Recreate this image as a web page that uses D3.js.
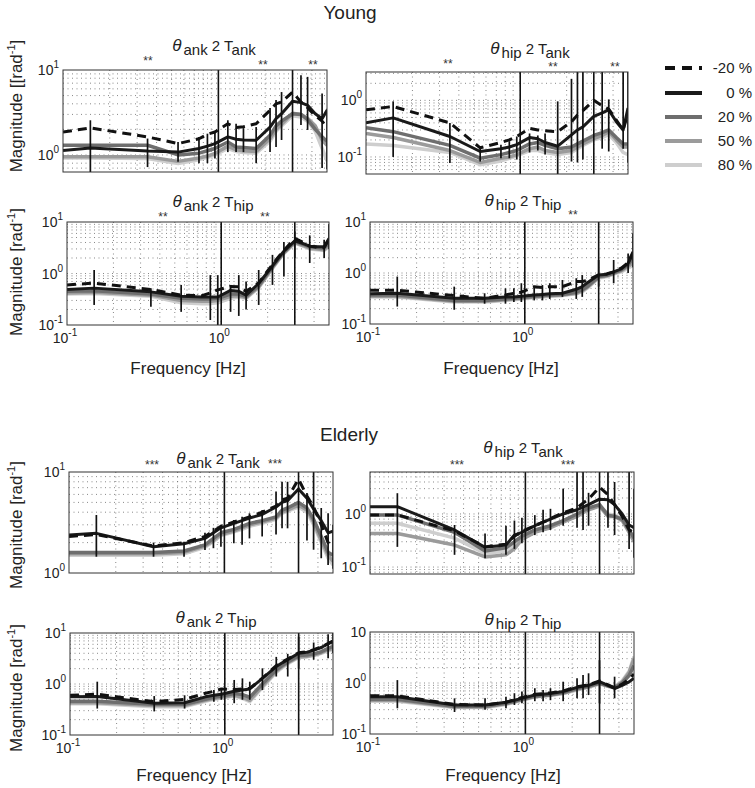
<!DOCTYPE html>
<html><head><meta charset="utf-8">
<script src="https://cdn.jsdelivr.net/npm/d3@7"></script>
<style>
body{margin:0;background:#fff;}
svg{font-family:"Liberation Sans", Arial, Helvetica, sans-serif;}
</style></head><body>
<svg id="chart" width="755" height="788"></svg>
<script>
// ---------------- DATA ----------------
const freqs = [0.1, 0.15, 0.35, 0.55, 0.75, 0.85, 0.95, 1.15, 1.3, 1.45, 1.75, 2.15, 2.35, 2.55, 3.0, 3.4, 3.75, 4.2, 4.65, 5.0];
const seriesNames = ["-20 %", "0 %", "20 %", "50 %", "80 %"];
const markerFreqs = [1, 3];
const groupTitles = ["Young", "Elderly"];

// Young θank 2 Tank
const YAT_m20 = [1.86, 2.08, 1.63, 1.36, 1.55, 1.75, 1.86, 2.33, 2.10, 2.15, 2.33, 3.35, 4.0, 4.2, 5.5, 4.2, 3.6, 2.9, 2.5, 2.1];
const YAT_0   = [1.13, 1.21, 1.11, 1.08, 1.19, 1.27, 1.36, 1.63, 1.53, 1.50, 1.49, 2.13, 2.67, 3.06, 4.28, 4.13, 3.84, 3.06, 2.67, 3.35];
const YAT_20  = [1.30, 1.30, 1.30, 1.00, 1.05, 1.12, 1.19, 1.42, 1.24, 1.22, 1.19, 1.70, 2.2, 2.5, 3.06, 3.0, 2.6, 2.0, 1.63, 1.45];
const YAT_50  = [0.95, 0.95, 0.95, 0.84, 0.92, 0.97, 1.04, 1.27, 1.15, 1.12, 1.10, 1.55, 2.0, 2.3, 3.1, 3.0, 2.7, 2.2, 1.5, 1.3];
const YAT_80  = [0.92, 0.92, 0.91, 0.79, 0.88, 0.94, 1.00, 1.19, 1.10, 1.07, 1.05, 1.45, 1.9, 2.2, 2.9, 2.8, 2.5, 1.9, 1.2, 0.85];
const YAT_err = [[1,0.5,2.56],[2,0.72,1.56],[3,0.83,1.42],[4,0.80,1.63],[5,0.80,1.78],[6,0.91,1.86],[7,1.08,2.56],[8,1.08,2.33],[9,1.08,2.07],[10,0.80,2.13],[11,1.08,3.57],[12,1.24,4.44],[13,1.5,5.5],[15,2.25,8.7],[16,1.97,8.3],[18,0.70,5.3],[19,0.68,3.5]];

// Young θhip 2 Tank
const YHT_m20 = [0.68, 0.78, 0.40, 0.145, 0.18, 0.20, 0.23, 0.32, 0.30, 0.29, 0.28, 0.42, 0.55, 0.66, 1.0, 0.8, 0.7, 0.45, 0.30, 0.6];
const YHT_0   = [0.40, 0.49, 0.23, 0.125, 0.14, 0.15, 0.165, 0.22, 0.21, 0.18, 0.155, 0.245, 0.30, 0.34, 0.52, 0.60, 0.68, 0.42, 0.30, 0.73];
const YHT_20  = [0.33, 0.28, 0.16, 0.095, 0.11, 0.12, 0.13, 0.17, 0.18, 0.16, 0.14, 0.15, 0.17, 0.19, 0.24, 0.27, 0.30, 0.22, 0.17, 0.17];
const YHT_50  = [0.26, 0.22, 0.13, 0.08, 0.095, 0.10, 0.11, 0.14, 0.15, 0.13, 0.12, 0.13, 0.15, 0.17, 0.21, 0.24, 0.28, 0.20, 0.15, 0.15];
const YHT_80  = [0.17, 0.16, 0.12, 0.073, 0.085, 0.095, 0.105, 0.13, 0.13, 0.12, 0.11, 0.12, 0.14, 0.16, 0.20, 0.22, 0.25, 0.18, 0.12, 0.11];
const YHT_err = [[1,0.10,0.96],[2,0.078,0.40],[3,0.083,0.153],[4,0.095,0.164],[5,0.095,0.19],[6,0.09,0.23],[7,0.12,0.26],[8,0.13,0.24],[9,0.11,0.26],[10,0.04,0.96],[11,0.083,2.4],[12,0.08,5],[13,0.09,5],[15,0.14,5],[16,0.125,1.04],[18,0.14,5],[19,0.08,5]];

// Young θank 2 Thip
const YAH_m20 = [0.60, 0.65, 0.49, 0.38, 0.37, 0.42, 0.48, 0.56, 0.55, 0.45, 0.66, 1.5, 2.1, 2.8, 4.8, 4.0, 3.4, 3.2, 3.2, 4.6];
const YAH_0   = [0.49, 0.52, 0.44, 0.36, 0.35, 0.35, 0.35, 0.47, 0.45, 0.38, 0.64, 1.4, 2.0, 2.7, 4.3, 3.8, 3.4, 3.3, 3.3, 4.8];
const YAH_20  = [0.45, 0.46, 0.40, 0.33, 0.32, 0.32, 0.33, 0.40, 0.40, 0.36, 0.58, 1.35, 1.9, 2.6, 4.2, 3.7, 3.3, 3.2, 3.1, 4.0];
const YAH_50  = [0.42, 0.43, 0.38, 0.30, 0.29, 0.29, 0.30, 0.36, 0.37, 0.34, 0.55, 1.3, 1.85, 2.5, 4.0, 3.5, 3.1, 3.0, 2.9, 3.6];
const YAH_80  = [0.40, 0.41, 0.36, 0.27, 0.26, 0.26, 0.27, 0.33, 0.35, 0.33, 0.53, 1.25, 1.8, 2.45, 3.9, 3.4, 3.0, 2.9, 2.8, 3.3];
const YAH_err = [[1,0.245,1.17],[2,0.227,0.52],[3,0.18,0.60],[5,0.125,0.93],[6,0.10,0.93],[7,0.18,0.60],[8,0.15,0.93],[9,0.2,0.7],[10,0.245,1.17],[11,0.6,2.3],[13,0.87,4.1],[14,2.0,6.5],[16,1.6,5.5],[18,2.0,4.5],[19,3,9]];

// Young θhip 2 Thip
const YHH_m20 = [0.46, 0.46, 0.36, 0.32, 0.37, 0.40, 0.42, 0.54, 0.52, 0.54, 0.54, 0.68, 0.68, 0.72, 0.92, 0.97, 1.05, 1.25, 1.6, 2.6];
const YHH_0   = [0.39, 0.40, 0.32, 0.32, 0.34, 0.34, 0.35, 0.37, 0.38, 0.39, 0.40, 0.48, 0.54, 0.65, 0.91, 0.95, 1.05, 1.2, 1.55, 2.4];
const YHH_20  = [0.37, 0.37, 0.29, 0.29, 0.31, 0.32, 0.33, 0.35, 0.36, 0.37, 0.38, 0.42, 0.47, 0.55, 0.85, 0.9, 1.0, 1.15, 1.45, 2.0];
const YHH_50  = [0.35, 0.35, 0.28, 0.28, 0.30, 0.31, 0.32, 0.34, 0.35, 0.36, 0.37, 0.40, 0.45, 0.53, 0.82, 0.88, 0.98, 1.1, 1.35, 1.6];
const YHH_80  = [0.34, 0.34, 0.27, 0.27, 0.29, 0.30, 0.31, 0.33, 0.34, 0.35, 0.36, 0.39, 0.43, 0.51, 0.80, 0.85, 0.95, 1.05, 1.25, 1.4];
const YHH_err = [[1,0.22,0.85],[2,0.19,0.54],[3,0.25,0.40],[4,0.25,0.5],[5,0.27,0.5],[6,0.27,0.63],[7,0.29,0.54],[8,0.29,0.58],[9,0.31,0.63],[10,0.34,0.73],[11,0.31,0.79],[12,0.34,0.91],[14,0.54,1.8],[16,0.63,1.8],[18,1.0,2.4],[19,1.3,6]];

// Elderly θank 2 Tank
const EAT_m20 = [2.3, 2.4, 1.85, 2.0, 2.3, 2.6, 2.9, 3.2, 3.4, 3.6, 4.0, 4.6, 5.3, 5.5, 8.5, 5.8, 4.5, 3.0, 2.0, 1.8];
const EAT_0   = [2.38, 2.47, 1.82, 1.95, 2.2, 2.5, 2.8, 3.1, 3.3, 3.5, 3.8, 4.5, 5.0, 5.2, 6.8, 5.5, 4.3, 3.3, 2.5, 2.6];
const EAT_20  = [1.6, 1.6, 1.6, 1.65, 1.9, 2.2, 2.5, 2.7, 2.9, 3.1, 3.3, 3.6, 4.2, 4.4, 5.0, 4.4, 3.4, 2.3, 1.6, 1.5];
const EAT_50  = [1.55, 1.55, 1.55, 1.6, 1.85, 2.1, 2.4, 2.6, 2.8, 3.0, 3.2, 3.5, 4.0, 4.2, 4.7, 4.2, 3.2, 2.1, 1.5, 1.3];
const EAT_80  = [1.5, 1.5, 1.5, 1.55, 1.8, 2.05, 2.35, 2.55, 2.7, 2.9, 3.1, 3.4, 3.9, 4.1, 4.5, 4.0, 3.0, 2.0, 1.4, 1.2];
const EAT_err = [[1,1.45,3.75],[2,1.45,2.0],[3,1.45,2.04],[4,1.69,2.5],[5,1.76,2.8],[6,1.82,3.0],[7,1.97,3.35],[8,1.9,3.6],[9,2.2,3.9],[10,2.3,4.2],[11,2.4,6.4],[12,2.77,8.0],[13,2.77,8.0],[15,2.1,6.2],[16,1.7,10],[17,1.4,4.4],[18,1.2,3.9],[19,1.1,3.0]];

// Elderly θhip 2 Tank
const EHT_m20 = [0.96, 0.96, 0.48, 0.24, 0.27, 0.38, 0.47, 0.6, 0.7, 0.82, 1.05, 1.3, 1.6, 1.9, 3.2, 2.3, 1.5, 0.9, 0.5, 0.45];
const EHT_0   = [1.37, 1.37, 0.50, 0.235, 0.26, 0.40, 0.45, 0.6, 0.7, 0.8, 1.0, 1.2, 1.35, 1.5, 1.9, 1.85, 1.5, 1.0, 0.62, 0.55];
const EHT_20  = [0.96, 0.96, 0.45, 0.2, 0.23, 0.3, 0.38, 0.5, 0.55, 0.6, 0.75, 1.0, 1.15, 1.3, 1.5, 0.95, 0.9, 0.8, 0.5, 0.35];
const EHT_50  = [0.43, 0.43, 0.26, 0.155, 0.17, 0.22, 0.33, 0.45, 0.5, 0.55, 0.7, 0.9, 1.05, 1.2, 1.4, 0.9, 0.9, 0.75, 0.45, 0.3];
const EHT_80  = [0.67, 0.67, 0.35, 0.18, 0.2, 0.26, 0.36, 0.47, 0.52, 0.58, 0.72, 0.95, 1.1, 1.25, 1.45, 1.0, 0.95, 0.8, 0.5, 0.32];
const EHT_err = [[1,0.24,2.46],[2,0.17,0.62],[3,0.146,0.43],[4,0.17,0.6],[5,0.22,0.75],[6,0.28,0.85],[7,0.4,0.95],[8,0.45,1.2],[9,0.5,1.25],[10,0.6,3.0],[11,0.55,7],[12,0.5,7],[13,0.6,2.5],[15,0.55,7],[16,0.4,4],[18,0.22,7],[19,0.15,3]];

// Elderly θank 2 Thip
const EAH_m20 = [0.6, 0.63, 0.45, 0.5, 0.66, 0.72, 0.8, 0.78, 0.8, 0.82, 1.3, 2.3, 2.7, 3.1, 4.1, 4.3, 4.7, 5.3, 6.2, 7.0];
const EAH_0   = [0.56, 0.57, 0.42, 0.43, 0.56, 0.6, 0.63, 0.72, 0.76, 0.8, 1.29, 2.2, 2.6, 3.0, 4.0, 4.2, 4.6, 5.2, 6.2, 6.8];
const EAH_20  = [0.46, 0.46, 0.4, 0.4, 0.5, 0.55, 0.58, 0.65, 0.62, 0.55, 1.0, 1.9, 2.3, 2.7, 3.6, 3.7, 3.9, 4.3, 5.0, 5.5];
const EAH_50  = [0.43, 0.43, 0.38, 0.38, 0.48, 0.52, 0.55, 0.6, 0.55, 0.48, 0.9, 1.8, 2.2, 2.6, 3.4, 3.5, 3.7, 4.1, 4.7, 5.0];
const EAH_80  = [0.41, 0.41, 0.36, 0.36, 0.46, 0.5, 0.53, 0.58, 0.52, 0.45, 0.85, 1.7, 2.1, 2.5, 3.3, 3.4, 3.6, 4.0, 4.5, 4.7];
const EAH_err = [[1,0.33,1.11],[2,0.29,0.58],[3,0.33,0.6],[5,0.45,0.76],[6,0.49,0.82],[7,0.42,1.2],[8,0.49,1.29],[9,0.49,1.11],[10,0.76,2.03],[11,1.4,3.4],[13,1.4,3.9],[14,2.0,8.5],[16,3.0,6.5],[18,3.2,9.4],[19,4,10]];

// Elderly θhip 2 Thip
const EHH_m20 = [0.56, 0.56, 0.38, 0.37, 0.42, 0.47, 0.52, 0.6, 0.62, 0.64, 0.7, 0.84, 0.88, 0.92, 1.1, 0.92, 0.8, 0.95, 1.2, 1.5];
const EHH_0   = [0.54, 0.54, 0.37, 0.37, 0.42, 0.46, 0.5, 0.58, 0.6, 0.62, 0.68, 0.82, 0.86, 0.9, 1.06, 0.9, 0.78, 0.9, 1.05, 1.24];
const EHH_20  = [0.48, 0.48, 0.35, 0.35, 0.4, 0.44, 0.48, 0.55, 0.57, 0.59, 0.65, 0.78, 0.82, 0.86, 1.0, 0.88, 0.8, 1.0, 1.4, 2.2];
const EHH_50  = [0.46, 0.46, 0.34, 0.34, 0.39, 0.43, 0.47, 0.54, 0.56, 0.58, 0.63, 0.75, 0.8, 0.84, 0.98, 0.87, 0.82, 1.05, 1.6, 3.0];
const EHH_80  = [0.44, 0.44, 0.33, 0.33, 0.38, 0.42, 0.46, 0.53, 0.55, 0.57, 0.62, 0.73, 0.78, 0.82, 0.95, 0.86, 0.84, 1.1, 1.7, 3.3];
const EHH_err = [[1,0.32,1.14],[2,0.27,0.5],[3,0.3,0.5],[4,0.32,0.54],[5,0.37,0.63],[6,0.4,0.68],[7,0.44,0.79],[8,0.44,0.73],[9,0.46,0.79],[10,0.44,1.06],[11,0.5,1.24],[12,0.5,1.43],[13,0.58,1.55],[14,0.4,2.8],[16,0.5,1.33]];

// ---------------- LAYOUT ----------------
const seriesStyle = [
  {color:"#111111", width:3, dash:"9,6"},
  {color:"#1a1a1a", width:3, dash:null},
  {color:"#6e6e6e", width:3.5, dash:null},
  {color:"#9b9b9b", width:3.5, dash:null},
  {color:"#cecece", width:3.5, dash:null}
];

const panels = [
  {key:"p1", series:[YAT_m20,YAT_0,YAT_20,YAT_50,YAT_80], err:YAT_err, box:[63,327,70,172], yDomain:[0.63,10],
   yTicks:[[10,"1"],[1,"0"]], xTicks:false, t:["ank","ank"], tPos:[214,51],
   stars:[[148,59,"**"],[263,63,"**"],[313,63,"**"]], ylab:{text:"Magnitude  [[rad", cy:106}},
  {key:"p2", series:[YHT_m20,YHT_0,YHT_20,YHT_50,YHT_80], err:YHT_err, box:[366,628,72,174], yDomain:[0.05,3.17],
   yTicks:[[1,"0"],[0.1,"-1"]], xTicks:false, t:["hip","ank"], tPos:[530,54],
   stars:[[448,62,"**"],[553,65,"**"],[615,65,"**"]]},
  {key:"p3", series:[YAH_m20,YAH_0,YAH_20,YAH_50,YAH_80], err:YAH_err, box:[67,329,222,325], yDomain:[0.1,10],
   yTicks:[[10,"1"],[1,"0"],[0.1,"-1"]], xTicks:true, t:["ank","hip"], tPos:[213,207],
   stars:[[163,215,"**"],[265,215,"**"]], ylab:{text:"Magnitude  [rad", cy:272}, xlab:{cx:188, y:374}},
  {key:"p4", series:[YHH_m20,YHH_0,YHH_20,YHH_50,YHH_80], err:YHH_err, box:[370,633,222,324], yDomain:[0.1,10],
   yTicks:[[10,"1"],[1,"0"],[0.1,"-1"]], xTicks:true, t:["hip","hip"], tPos:[523,206],
   stars:[[573,213,"**"]], xlab:{cx:501, y:374}},
  {key:"p5", series:[EAT_m20,EAT_0,EAT_20,EAT_50,EAT_80], err:EAT_err, box:[69,333,472,573], yDomain:[1,10],
   yTicks:[[10,"1"],[1,"0"]], xTicks:false, t:["ank","ank"], tPos:[218,464],
   stars:[[152,463,"***"],[275,462,"***"]], ylab:{text:"Magnitude  [rad", cy:525}},
  {key:"p6", series:[EHT_m20,EHT_0,EHT_20,EHT_50,EHT_80], err:EHT_err, box:[370,634,472,574], yDomain:[0.074,6.17],
   yTicks:[[1,"0"],[0.1,"-1"]], xTicks:false, t:["hip","ank"], tPos:[523,453],
   stars:[[457,463,"***"],[568,463,"***"]]},
  {key:"p7", series:[EAH_m20,EAH_0,EAH_20,EAH_50,EAH_80], err:EAH_err, box:[70,333,633,735], yDomain:[0.1,10],
   yTicks:[[10,"1"],[1,"0"],[0.1,"-1"]], xTicks:true, t:["ank","hip"], tPos:[216,623],
   stars:[], ylab:{text:"Magnitude  [rad", cy:688}, xlab:{cx:194, y:781}},
  {key:"p8", series:[EHH_m20,EHH_0,EHH_20,EHH_50,EHH_80], err:EHH_err, box:[370,634,632,734], yDomain:[0.1,10],
   yTicks:[[10,""],[1,"0"],[0.1,"-1"]], xTicks:true, t:["hip","hip"], tPos:[523,625],
   stars:[], xlab:{cx:503, y:781}}
];

const svg = d3.select("#chart");
const defs = svg.append("defs");
const ink = "#222";

function minorGrid(dom) {
  const out = [];
  const lo = Math.floor(Math.log10(dom[0])), hi = Math.ceil(Math.log10(dom[1]));
  for (let d = lo; d <= hi; d++) for (let k = 1; k <= 9; k++) {
    const v = k * Math.pow(10, d);
    if (v > dom[0] * 1.001 && v < dom[1] * 0.999) out.push(v);
  }
  return out;
}

function drawPanel(cfg) {
  const [x0, x1, y0, y1] = cfg.box;
  const x = d3.scaleLog().domain([0.1, 5]).range([x0, x1]);
  const y = d3.scaleLog().domain(cfg.yDomain).range([y1, y0]);
  const g = svg.append("g");
  defs.append("clipPath").attr("id", "clip-" + cfg.key)
    .append("rect").attr("x", x0).attr("y", y0).attr("width", x1 - x0).attr("height", y1 - y0);

  // dotted grid
  const grid = g.append("g").attr("stroke", "#6a6a6a").attr("stroke-width", 0.8).attr("stroke-dasharray", "1,3.5");
  grid.selectAll(".gx").data(minorGrid([0.1, 5])).join("line")
    .attr("x1", d => x(d)).attr("x2", d => x(d)).attr("y1", y0).attr("y2", y1);
  grid.selectAll(".gy").data(minorGrid(cfg.yDomain)).join("line")
    .attr("x1", x0).attr("x2", x1).attr("y1", d => y(d)).attr("y2", d => y(d));

  const plot = g.append("g").attr("clip-path", `url(#clip-${cfg.key})`);
  const line = d3.line().x((d, i) => x(freqs[i])).y(d => y(d));
  [4, 3, 2, 1, 0].forEach(si => {
    const st = seriesStyle[si];
    plot.append("path").datum(cfg.series[si])
      .attr("d", line).attr("fill", "none")
      .attr("stroke", st.color).attr("stroke-width", st.width)
      .attr("stroke-linejoin", "round")
      .attr("stroke-dasharray", st.dash);
  });
  // error bars
  plot.selectAll(".eb").data(cfg.err).join("line")
    .attr("x1", d => x(freqs[d[0]])).attr("x2", d => x(freqs[d[0]]))
    .attr("y1", d => y(d[1])).attr("y2", d => y(d[2]))
    .attr("stroke", "#111").attr("stroke-width", 1.7);
  // frequency band markers
  plot.selectAll(".mk").data(markerFreqs).join("line")
    .attr("x1", d => x(d)).attr("x2", d => x(d)).attr("y1", y0).attr("y2", y1)
    .attr("stroke", "#111").attr("stroke-width", 1.6);

  // box
  g.append("rect").attr("x", x0).attr("y", y0).attr("width", x1 - x0).attr("height", y1 - y0)
    .attr("fill", "none").attr("stroke", "#333").attr("stroke-width", 1);

  // y tick labels
  cfg.yTicks.forEach(([v, e]) => {
    const t = g.append("text").attr("x", x0 - 4).attr("y", y(v) + 5)
      .attr("text-anchor", "end").attr("font-size", 14).attr("fill", ink);
    t.append("tspan").text("10");
    if (e) t.append("tspan").attr("font-size", 10).attr("dy", -7).text(e);
  });
  // x tick labels
  if (cfg.xTicks) {
    [[0.1, "-1"], [1, "0"]].forEach(([v, e]) => {
      const t = g.append("text").attr("x", x(v) - 2).attr("y", y1 + 18)
        .attr("text-anchor", "middle").attr("font-size", 14).attr("fill", ink);
      t.append("tspan").text("10");
      t.append("tspan").attr("font-size", 10).attr("dy", -7).text(e);
    });
  }
  // title
  const tt = g.append("text").attr("x", cfg.tPos[0]).attr("y", cfg.tPos[1])
    .attr("text-anchor", "middle").attr("font-size", 15).attr("fill", ink);
  tt.append("tspan").attr("font-style", "italic").attr("font-size", 17).text("θ");
  tt.append("tspan").attr("dx", 2).attr("dy", 4).text(cfg.t[0]);
  tt.append("tspan").attr("dy", -4).text(" 2 T");
  tt.append("tspan").attr("dy", 4).text(cfg.t[1]);
  // significance stars
  cfg.stars.forEach(([sx, sy, s]) => {
    g.append("text").attr("x", sx).attr("y", sy + 6).attr("text-anchor", "middle")
      .attr("font-size", 12).attr("fill", "#333").text(s);
  });
  // y label
  if (cfg.ylab) {
    const t = g.append("text").attr("transform", `translate(22,${cfg.ylab.cy}) rotate(-90)`)
      .attr("text-anchor", "middle").attr("font-size", 17).attr("fill", ink);
    t.append("tspan").text(cfg.ylab.text);
    t.append("tspan").attr("font-size", 11).attr("dy", -7).text("-1");
    t.append("tspan").attr("dy", 7).text("]");
  }
  if (cfg.xlab) {
    g.append("text").attr("x", cfg.xlab.cx).attr("y", cfg.xlab.y).attr("text-anchor", "middle")
      .attr("font-size", 17).attr("fill", ink).text("Frequency [Hz]");
  }
}

panels.forEach(drawPanel);

// group titles
svg.append("text").attr("x", 350).attr("y", 19).attr("text-anchor", "middle")
  .attr("font-size", 19).attr("fill", ink).text(groupTitles[0]);
svg.append("text").attr("x", 349).attr("y", 441).attr("text-anchor", "middle")
  .attr("font-size", 19).attr("fill", ink).text(groupTitles[1]);

// legend
const legY = [68, 93, 117, 141, 165];
const leg = svg.append("g");
seriesNames.forEach((name, i) => {
  const st = seriesStyle[i];
  leg.append("line").attr("x1", 665).attr("x2", 702).attr("y1", legY[i]).attr("y2", legY[i])
    .attr("stroke", st.color).attr("stroke-width", 4)
    .attr("stroke-dasharray", st.dash ? "10,7" : null);
  leg.append("text").attr("x", 752).attr("y", legY[i] + 5).attr("text-anchor", "end")
    .attr("font-size", 15).attr("fill", ink).text(name);
});
</script>
</body></html>
